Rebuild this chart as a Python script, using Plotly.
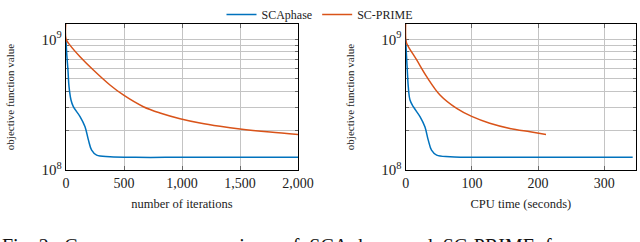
import plotly.graph_objects as go

# ---- data ----
iter_sca = [0, 6, 17, 26, 43, 63, 121, 164, 193, 221, 264, 379, 600, 1000, 1500, 2000]
obj_sca_iter = [1.0e9, 7.8e8, 5.8e8, 4.34e8, 3.43e8, 3.05e8, 2.56e8, 2.14e8, 1.70e8, 1.42e8,
                1.30e8, 1.265e8, 1.25e8, 1.25e8, 1.25e8, 1.25e8]

iter_prime = [0, 1, 34, 121, 236, 379, 494, 667, 810, 983, 1155, 1328, 1500, 1759, 2000]
obj_prime_iter = [1.4e9, 1.0e9, 9.03e8, 7.36e8, 5.82e8, 4.47e8, 3.75e8, 3.05e8, 2.73e8, 2.47e8,
                  2.29e8, 2.16e8, 2.06e8, 1.95e8, 1.87e8]

time_sca = [0, 1, 2.4, 3.9, 6.5, 11.5, 21.6, 29, 34, 39, 46.8, 67, 120, 200, 280, 343]
obj_sca_time = [1.0e9, 7.8e8, 5.8e8, 4.34e8, 3.43e8, 3.05e8, 2.56e8, 2.14e8, 1.70e8, 1.42e8,
                1.30e8, 1.265e8, 1.25e8, 1.25e8, 1.25e8, 1.25e8]

time_prime = [0, 0.1, 1.5, 16.6, 31.7, 51.8, 77, 99.7, 127, 157.5, 188, 212]
obj_prime_time = [1.4e9, 1.0e9, 9.3e8, 6.95e8, 5.18e8, 3.75e8, 2.96e8, 2.57e8, 2.28e8, 2.08e8,
                  1.96e8, 1.87e8]

x1_ticks = [0, 500, 1000, 1500, 2000]
x1_labels = ["0", "500", "1,000", "1,500", "2,000"]
x2_ticks = [0, 100, 200, 300]
x2_labels = ["0", "100", "200", "300"]
y_ticks = [1e8, 2e8, 3e8, 4e8, 5e8, 6e8, 7e8, 8e8, 9e8, 1e9]
y_labels = ["10<sup>8</sup>", "", "", "", "", "", "", "", "", "10<sup>9</sup>"]

BLUE = "#0072BD"
RED = "#D95319"
FONT = "Liberation Serif"

line_shape = dict(shape="spline", smoothing=1.0)

fig = go.Figure()
fig.add_trace(go.Scatter(x=iter_sca, y=obj_sca_iter, mode="lines", name="SCAphase",
                         line=dict(color=BLUE, width=1.5, **line_shape),
                         xaxis="x", yaxis="y"))
fig.add_trace(go.Scatter(x=iter_prime, y=obj_prime_iter, mode="lines", name="SC-PRIME",
                         line=dict(color=RED, width=1.5, **line_shape),
                         xaxis="x", yaxis="y"))
fig.add_trace(go.Scatter(x=time_sca, y=obj_sca_time, mode="lines", name="SCAphase",
                         line=dict(color=BLUE, width=1.5, **line_shape),
                         xaxis="x2", yaxis="y2", showlegend=False))
fig.add_trace(go.Scatter(x=time_prime, y=obj_prime_time, mode="lines", name="SC-PRIME",
                         line=dict(color=RED, width=1.5, **line_shape),
                         xaxis="x2", yaxis="y2", showlegend=False))

W, H = 640, 242
ydom = [(H - 170) / H, (H - 24) / H]
GRID = "#c4c4c4"

common_x = dict(showline=True, linecolor="black", linewidth=1.3, mirror="ticks",
                ticks="inside", ticklen=4, tickcolor="#666", showgrid=True,
                gridcolor=GRID, gridwidth=1, zeroline=False, layer="below traces",
                automargin=False,
                tickfont=dict(family=FONT, size=14, color="#222"),
                title_font=dict(family=FONT, size=12.5, color="#222"), title_standoff=9)
common_y = dict(type="log", range=[8, 9.117], tickvals=y_ticks, ticktext=y_labels,
                showline=True, linecolor="black", linewidth=1.3, mirror="ticks",
                ticks="inside", ticklen=3, tickcolor="#666", showgrid=True,
                gridcolor=GRID, gridwidth=1, zeroline=False, layer="below traces",
                automargin=False,
                tickfont=dict(family=FONT, size=15, color="#222"),
                title_text="objective function value",
                title_font=dict(family=FONT, size=11, color="#222"), title_standoff=24)

fig.update_layout(
    width=W, height=H, margin=dict(l=0, r=0, t=0, b=0, pad=0, autoexpand=False),
    paper_bgcolor="white", plot_bgcolor="white",
    xaxis=dict(domain=[66 / W, 298 / W], range=[0, 2000], tickvals=x1_ticks, ticktext=x1_labels,
               title_text="number of iterations", anchor="y", **common_x),
    xaxis2=dict(domain=[405.7 / W, 636 / W], range=[0, 348], tickvals=x2_ticks, ticktext=x2_labels,
                title_text="CPU time (seconds)", anchor="y2", **common_x),
    yaxis=dict(domain=ydom, anchor="x", **common_y),
    yaxis2=dict(domain=ydom, anchor="x2", **common_y),
    legend=dict(orientation="h", x=0.5, xanchor="center", y=1.0, yanchor="top",
                font=dict(family=FONT, size=12, color="#222"), bgcolor="rgba(0,0,0,0)",
                tracegroupgap=0),
    showlegend=True,
)

fig.add_annotation(text="Fig. 2: &nbsp;Convergence &nbsp;comparison &nbsp;of &nbsp;SCAphase &nbsp;and &nbsp;SC-PRIME &nbsp;for",
                   xref="paper", yref="paper", x=0.0, y=(H - 233) / H, xanchor="left", yanchor="top",
                   showarrow=False, font=dict(family=FONT, size=20, color="#111"))

fig.write_html("out.html", config={"displayModeBar": False},
               post_script="document.body.style.margin='0';document.body.style.overflow='hidden';")
